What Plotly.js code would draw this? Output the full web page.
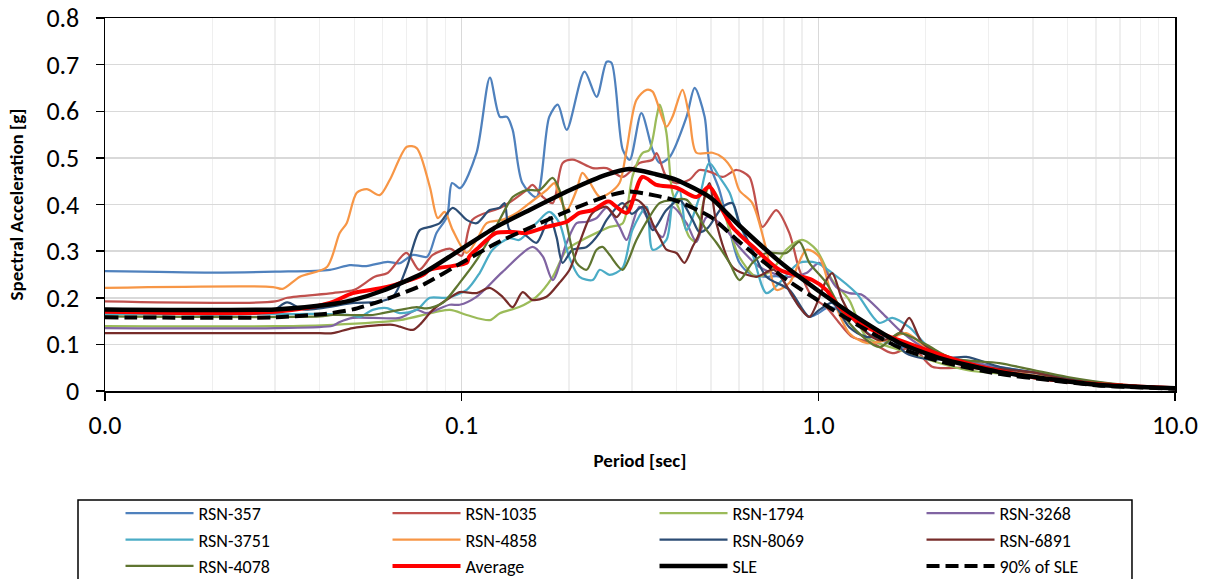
<!DOCTYPE html>
<html>
<head>
<meta charset="utf-8">
<script src="https://cdn.plot.ly/plotly-3.0.1.min.js"></script>
<style>html,body{margin:0;padding:0;background:#fff;}#chart{width:1210px;height:579px;}</style>
</head>
<body>
<div id="chart"></div>
<script>
// ---- Data (period [sec], spectral acceleration [g]) ----
var t357  = [0.01,0.02,0.03,0.0427,0.0486,0.054,0.062,0.067,0.073,0.080,0.085,0.091,0.094,0.099,0.110,0.120,0.128,0.134,0.139,0.148,0.162,0.176,0.186,0.197,0.221,0.239,0.255,0.263,0.283,0.296,0.319,0.343,0.359,0.383,0.427,0.450,0.480,0.495,0.528,0.564,0.601,0.65,0.72,0.78,0.85,0.94,1.0,1.07,1.2,1.4,1.7,2.0,2.5,3.0,4.0,5.0,7.0,10.0];
var sa357 = [0.257,0.254,0.256,0.260,0.270,0.268,0.277,0.274,0.292,0.288,0.339,0.374,0.446,0.435,0.510,0.672,0.588,0.588,0.560,0.446,0.416,0.588,0.614,0.560,0.685,0.631,0.706,0.704,0.517,0.496,0.596,0.517,0.489,0.502,0.588,0.650,0.588,0.489,0.431,0.345,0.275,0.250,0.245,0.245,0.200,0.159,0.167,0.180,0.165,0.120,0.095,0.085,0.065,0.055,0.040,0.025,0.013,0.006];

var t1035  = [0.01,0.03,0.0324,0.0435,0.050,0.057,0.062,0.070,0.076,0.083,0.093,0.100,0.107,0.130,0.152,0.158,0.169,0.180,0.192,0.205,0.233,0.255,0.283,0.315,0.343,0.352,0.375,0.400,0.435,0.464,0.505,0.539,0.590,0.641,0.697,0.762,0.829,0.885,0.962,1.053,1.145,1.245,1.417,1.612,1.834,2.086,2.6,3.586,3.975,5.0,7.0,10.0];
var sa1035 = [0.192,0.192,0.200,0.210,0.217,0.245,0.253,0.296,0.260,0.292,0.305,0.290,0.367,0.395,0.431,0.442,0.416,0.403,0.489,0.496,0.478,0.478,0.459,0.489,0.496,0.510,0.459,0.446,0.453,0.474,0.468,0.459,0.474,0.459,0.352,0.388,0.339,0.260,0.202,0.180,0.146,0.116,0.103,0.081,0.094,0.052,0.050,0.039,0.041,0.025,0.013,0.006];

var t1794  = [0.01,0.03,0.0435,0.067,0.0926,0.1033,0.120,0.128,0.145,0.162,0.180,0.197,0.218,0.248,0.260,0.283,0.301,0.321,0.336,0.352,0.359,0.375,0.390,0.408,0.435,0.455,0.473,0.495,0.528,0.564,0.600,0.670,0.743,0.813,0.900,0.987,1.094,1.221,1.363,1.686,2.6,3.5,5.0,7.0,10.0];
var sa1794 = [0.139,0.139,0.142,0.152,0.174,0.163,0.152,0.167,0.180,0.202,0.245,0.303,0.324,0.345,0.352,0.360,0.459,0.510,0.517,0.588,0.614,0.554,0.425,0.388,0.330,0.320,0.395,0.438,0.410,0.345,0.288,0.245,0.260,0.303,0.324,0.303,0.238,0.195,0.116,0.088,0.045,0.035,0.022,0.012,0.006];

var t3268  = [0.01,0.03,0.0435,0.0455,0.0495,0.067,0.0748,0.0798,0.0926,0.0987,0.110,0.130,0.158,0.169,0.180,0.197,0.210,0.224,0.239,0.255,0.277,0.290,0.315,0.343,0.366,0.390,0.427,0.455,0.486,0.530,0.560,0.600,0.684,0.813,0.926,1.006,1.123,1.221,1.328,1.511,1.686,1.882,2.2,2.8,3.5,5.0,7.0,10.0];
var sa3268 = [0.135,0.135,0.140,0.148,0.157,0.157,0.174,0.167,0.185,0.185,0.202,0.255,0.309,0.288,0.238,0.318,0.360,0.363,0.371,0.393,0.352,0.324,0.395,0.352,0.330,0.395,0.360,0.320,0.373,0.360,0.340,0.309,0.266,0.245,0.253,0.275,0.223,0.210,0.206,0.167,0.131,0.103,0.075,0.060,0.040,0.025,0.012,0.006];

var t3751  = [0.01,0.03,0.042,0.0486,0.0518,0.0563,0.0617,0.0671,0.0748,0.0814,0.0908,0.1033,0.1123,0.1221,0.136,0.145,0.162,0.176,0.188,0.200,0.214,0.233,0.244,0.260,0.2825,0.301,0.330,0.343,0.375,0.390,0.408,0.427,0.464,0.495,0.528,0.564,0.600,0.650,0.715,0.778,0.885,0.987,1.094,1.277,1.482,1.612,1.798,2.086,3.214,4.952,7.0,10.0];
var sa3751 = [0.165,0.165,0.165,0.163,0.159,0.174,0.178,0.167,0.174,0.200,0.200,0.217,0.253,0.303,0.328,0.324,0.360,0.384,0.360,0.288,0.245,0.238,0.260,0.249,0.264,0.345,0.395,0.303,0.324,0.403,0.431,0.345,0.416,0.489,0.459,0.425,0.360,0.300,0.210,0.232,0.275,0.275,0.253,0.210,0.146,0.157,0.137,0.088,0.045,0.024,0.013,0.006];

var t4858  = [0.01,0.0296,0.0315,0.0352,0.0419,0.0455,0.0476,0.0508,0.0542,0.0589,0.0629,0.0702,0.0748,0.0814,0.0857,0.0896,0.0944,0.1033,0.1102,0.1175,0.130,0.1426,0.1551,0.173,0.182,0.188,0.197,0.210,0.218,0.228,0.244,0.260,0.277,0.290,0.309,0.330,0.343,0.375,0.390,0.416,0.435,0.455,0.505,0.540,0.574,0.601,0.653,0.715,0.7625,0.830,0.926,1.006,1.094,1.221,1.363,1.550,1.764,2.007,2.6,3.5,5.0,7.0,10.0];
var sa4858 = [0.221,0.223,0.219,0.245,0.266,0.339,0.360,0.425,0.433,0.420,0.453,0.524,0.521,0.438,0.371,0.384,0.345,0.296,0.324,0.360,0.367,0.382,0.403,0.431,0.446,0.416,0.388,0.431,0.468,0.449,0.416,0.425,0.446,0.517,0.624,0.646,0.642,0.567,0.588,0.646,0.588,0.511,0.511,0.500,0.474,0.430,0.403,0.303,0.217,0.232,0.303,0.288,0.202,0.124,0.103,0.109,0.124,0.094,0.060,0.040,0.025,0.013,0.006];

var t8069  = [0.01,0.029,0.0324,0.036,0.050,0.0578,0.0641,0.0702,0.0763,0.0814,0.0868,0.0944,0.1033,0.1102,0.1198,0.1278,0.1319,0.1363,0.1482,0.1622,0.1764,0.1845,0.1918,0.2046,0.224,0.2436,0.255,0.2825,0.300,0.321,0.343,0.375,0.408,0.444,0.464,0.490,0.539,0.574,0.601,0.6535,0.7152,0.8294,0.9437,1.0064,1.094,1.221,1.363,1.580,1.764,2.086,2.598,3.214,4.0,5.0,7.0,10.0];
var sa8069 = [0.170,0.170,0.190,0.175,0.189,0.191,0.202,0.266,0.345,0.352,0.360,0.393,0.367,0.360,0.388,0.393,0.403,0.345,0.339,0.318,0.373,0.330,0.275,0.303,0.309,0.339,0.367,0.403,0.380,0.395,0.345,0.388,0.410,0.367,0.341,0.350,0.395,0.403,0.360,0.303,0.245,0.217,0.159,0.174,0.189,0.137,0.116,0.116,0.081,0.067,0.073,0.052,0.040,0.027,0.013,0.006];

var t6891  = [0.01,0.04,0.0435,0.0495,0.0641,0.0671,0.0729,0.0763,0.083,0.0926,0.0987,0.1102,0.1198,0.1302,0.139,0.1482,0.1581,0.173,0.188,0.2007,0.2141,0.2328,0.2548,0.2718,0.2899,0.3092,0.330,0.3428,0.3586,0.3752,0.4002,0.4213,0.4437,0.4642,0.4795,0.495,0.518,0.5744,0.6706,0.750,0.885,0.9437,1.053,1.094,1.168,1.277,1.482,1.686,1.798,1.956,2.328,3.0,4.0,5.0,7.0,10.0];
var sa6891 = [0.124,0.124,0.124,0.135,0.142,0.138,0.131,0.142,0.174,0.200,0.212,0.210,0.221,0.202,0.180,0.212,0.195,0.202,0.232,0.260,0.318,0.382,0.395,0.373,0.403,0.410,0.390,0.360,0.330,0.303,0.296,0.275,0.309,0.339,0.416,0.446,0.360,0.266,0.245,0.260,0.180,0.159,0.238,0.253,0.195,0.146,0.109,0.124,0.157,0.103,0.071,0.050,0.040,0.025,0.013,0.006];

var t4078  = [0.01,0.04,0.0435,0.0563,0.0601,0.0671,0.0748,0.0798,0.0885,0.0987,0.1102,0.1221,0.1336,0.139,0.1521,0.1653,0.1798,0.1881,0.1968,0.210,0.224,0.2389,0.2483,0.2598,0.2825,0.309,0.336,0.3586,0.390,0.427,0.486,0.518,0.5635,0.601,0.6535,0.7152,0.8134,0.885,0.9437,1.053,1.221,1.482,1.686,2.0,2.374,3.214,4.0,5.0,7.0,10.0];
var sa4078 = [0.160,0.160,0.163,0.163,0.167,0.174,0.180,0.177,0.189,0.232,0.281,0.339,0.395,0.416,0.431,0.431,0.457,0.431,0.360,0.275,0.260,0.303,0.309,0.292,0.260,0.324,0.373,0.403,0.410,0.410,0.345,0.318,0.275,0.238,0.275,0.296,0.296,0.320,0.275,0.232,0.146,0.094,0.124,0.100,0.070,0.060,0.045,0.030,0.014,0.006];

var tAvg  = [0.01,0.03,0.0427,0.0495,0.0617,0.0778,0.0814,0.1033,0.105,0.112,0.1175,0.125,0.139,0.152,0.173,0.197,0.214,0.233,0.255,0.260,0.290,0.321,0.352,0.400,0.455,0.495,0.538,0.574,0.670,0.778,0.962,1.052,1.145,1.362,1.686,2.6,3.97,6.0,10.0];
var saAvg = [0.170,0.170,0.189,0.210,0.223,0.249,0.260,0.275,0.288,0.309,0.324,0.339,0.341,0.339,0.352,0.363,0.382,0.388,0.406,0.406,0.382,0.459,0.442,0.436,0.416,0.438,0.388,0.352,0.303,0.260,0.238,0.217,0.180,0.137,0.109,0.060,0.030,0.015,0.006];

var tSLE  = [0.01,0.03,0.042,0.0495,0.060,0.078,0.100,0.125,0.152,0.200,0.255,0.295,0.350,0.400,0.500,0.600,0.800,1.0,1.3,1.69,2.2,3.2,4.5,6.1,10.0];
var saSLE = [0.175,0.175,0.185,0.195,0.215,0.253,0.305,0.352,0.385,0.430,0.464,0.476,0.465,0.453,0.414,0.355,0.270,0.215,0.155,0.103,0.070,0.041,0.025,0.013,0.006];

var t90  = [0.01,0.03,0.042,0.0495,0.060,0.078,0.100,0.125,0.152,0.200,0.255,0.295,0.350,0.400,0.500,0.600,0.800,1.0,1.3,1.69,2.2,3.2,4.5,6.1,10.0];
var sa90 = [0.158,0.158,0.166,0.175,0.194,0.228,0.275,0.317,0.347,0.387,0.418,0.428,0.419,0.408,0.373,0.320,0.243,0.194,0.140,0.093,0.063,0.037,0.023,0.012,0.005];

var xTickVals = [0.01,0.1,1,10];
var xTickText = ['0.0','0.1','1.0','10.0'];
var xMinorVals = [0.02,0.03,0.04,0.05,0.06,0.07,0.08,0.09,0.2,0.3,0.4,0.5,0.6,0.7,0.8,0.9,2,3,4,5,6,7,8,9];

var FONT = 'Carlito, Lato, "Liberation Sans", sans-serif';

function rec(name, x, y, color) {
  return {type:'scatter', mode:'lines', name:name, x:x, y:y,
          line:{color:color, width:2.25, shape:'spline', smoothing:0.8}};
}

var traces = [
  rec('RSN-357',  t357,  sa357,  '#4F81BD'),
  rec('RSN-1035', t1035, sa1035, '#C0504D'),
  rec('RSN-1794', t1794, sa1794, '#9BBB59'),
  rec('RSN-3268', t3268, sa3268, '#8064A2'),
  rec('RSN-3751', t3751, sa3751, '#4BACC6'),
  rec('RSN-4858', t4858, sa4858, '#F79646'),
  rec('RSN-8069', t8069, sa8069, '#2C4D75'),
  rec('RSN-6891', t6891, sa6891, '#772C2A'),
  rec('RSN-4078', t4078, sa4078, '#5F7530'),
  {type:'scatter', mode:'lines', name:'Average', x:tAvg, y:saAvg,
   line:{color:'#FF0000', width:4, shape:'spline', smoothing:0.8}},
  {type:'scatter', mode:'lines', name:'SLE', x:tSLE, y:saSLE,
   line:{color:'#000000', width:4.5, shape:'spline', smoothing:0.6}},
  {type:'scatter', mode:'lines', name:'90% of SLE', x:t90, y:sa90,
   line:{color:'#000000', width:4, dash:'13px,6px', shape:'spline', smoothing:0.6}}
];

var layout = {
  width:1210, height:579,
  margin:{l:105, r:35, t:18, b:188, autoexpand:false},
  paper_bgcolor:'#ffffff', plot_bgcolor:'#ffffff',
  font:{family:FONT, color:'#000000'},
  showlegend:true,
  legend:{orientation:'h', xref:'container', yref:'container', x:0.0996, y:0.1452,
          xanchor:'left', yanchor:'top', entrywidth:184, entrywidthmode:'pixels',
          itemwidth:68, font:{family:FONT, size:18, color:'#000'},
          bgcolor:'rgba(0,0,0,0)', borderwidth:0, traceorder:'normal'},
  xaxis:{type:'log', range:[-2,1], tickmode:'array', tickvals:xTickVals, ticktext:xTickText,
         ticks:'outside', ticklen:8, tickwidth:1.5, tickcolor:'#000',
         showline:true, linecolor:'#000', linewidth:1.5, mirror:true,
         showgrid:true, gridcolor:'#D9D9D9', gridwidth:1.5,
         minor:{tickmode:'array', tickvals:xMinorVals, showgrid:true, gridcolor:'#EFEFEF', gridwidth:1.5, ticks:''},
         tickfont:{family:FONT, size:26}, ticklabelstandoff:2, automargin:false,
         zeroline:false,
         title:{text:'<b>Period [sec]</b>', font:{family:FONT, size:19}, standoff:14}},
  yaxis:{range:[0,0.8], dtick:0.1, tick0:0,
         ticks:'outside', ticklen:8, tickwidth:1.5, tickcolor:'#000',
         showline:true, linecolor:'#000', linewidth:1.5, mirror:true,
         showgrid:true, gridcolor:'#D9D9D9', gridwidth:1.5,
         tickfont:{family:FONT, size:26}, ticklabelstandoff:11, automargin:false,
         zeroline:false,
         title:{text:'<b>Spectral Acceleration [g]</b>', font:{family:FONT, size:19}, standoff:17}},
  shapes:[
    {type:'rect', xref:'paper', yref:'paper', x0:-0.02523, x1:0.9598, y0:-0.5335, y1:-0.2922,
     line:{color:'#000', width:1.5}, fillcolor:'rgba(0,0,0,0)', layer:'above'}
  ]
};

Plotly.newPlot('chart', traces, layout, {displayModeBar:false, staticPlot:true});
</script>
</body>
</html>
